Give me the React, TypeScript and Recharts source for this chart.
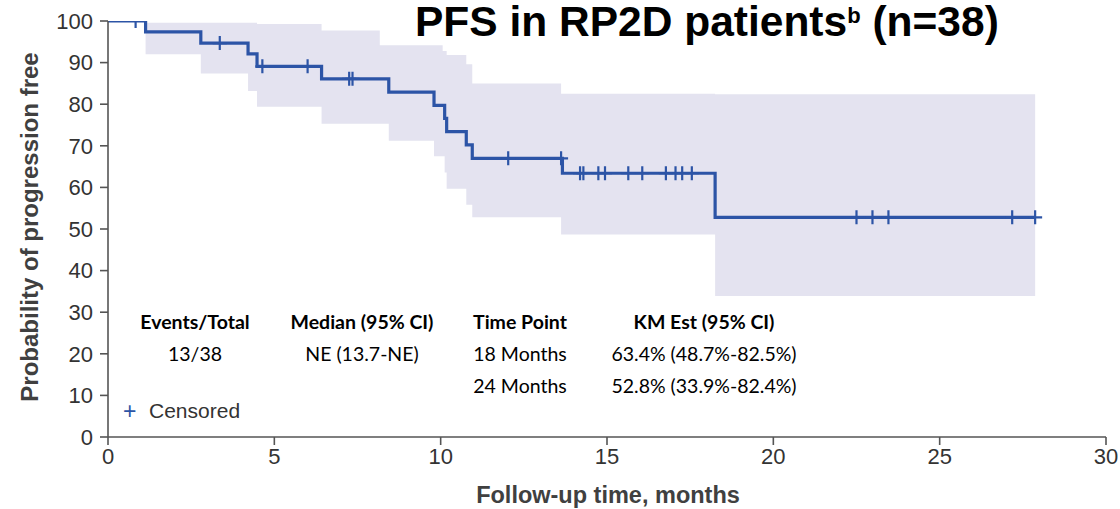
import React from 'react';
import { ComposedChart, Line, Area, Scatter, XAxis, YAxis } from 'recharts';

// Kaplan–Meier step estimate (percent progression free) at each event time
const kmTimes = [0, 1.13, 2.79, 4.21, 4.48, 6.42, 8.44, 9.8, 10.12, 10.18, 10.77, 10.95, 13.66, 18.25, 27.87];
const kmSurvival = [100, 97.4, 94.7, 92.1, 89.1, 86.1, 82.9, 79.7, 76.6, 73.4, 70.2, 67.0, 63.4, 52.8, 52.8];

// 95% confidence band, stepwise
const ciTimes = [1.13, 2.79, 4.21, 4.48, 6.42, 8.17, 8.44, 9.8, 10.06, 10.12, 10.18, 10.77, 10.95, 13.62, 18.25, 27.87];
const ciLower = [92.0, 87.4, 83.2, 79.4, 75.3, 75.3, 71.2, 67.5, 67.5, 63.6, 59.7, 55.8, 52.8, 48.7, 33.9, 33.9];
const ciUpper = [99.6, 99.6, 99.6, 99.3, 97.7, 94.2, 94.2, 94.2, 92.8, 92.8, 91.8, 89.6, 85.0, 82.5, 82.4, 82.4];

// Censoring times (months)
const censorTimes = [
  0.83, 3.36, 4.64, 6.0, 7.25, 7.35, 12.03, 13.62, 14.19, 14.29, 14.74, 14.94, 15.64,
  16.06, 16.77, 17.06, 17.26, 17.55, 22.5, 22.98, 23.46, 27.18, 27.87,
];

const xTicks = [0, 5, 10, 15, 20, 25, 30];
const yTicks = [0, 10, 20, 30, 40, 50, 60, 70, 80, 90, 100];

const tableHeaders = ['Events/Total', 'Median (95% CI)', 'Time Point', 'KM Est (95% CI)'];
const tableRow1 = ['13/38', 'NE (13.7-NE)', '18 Months', '63.4% (48.7%-82.5%)'];
const tableRow2 = ['', '', '24 Months', '52.8% (33.9%-82.4%)'];

const LINE_COLOR = '#2c54a6';
const BAND_COLOR = '#e4e3f0';
const AXIS_COLOR = '#555555';
const SANS = '"Liberation Sans", Arial, Helvetica, sans-serif';
const TABLE_FONT = 'Lato, sans-serif';

const kmData = kmTimes.map((t, i) => ({ t, v: kmSurvival[i] }));
const ciData = ciTimes.map((t, i) => ({ t, lo: ciLower[i], hi: ciUpper[i] }));

// survival level in effect at time t (step function lookup)
const levelAt = (t: number) => {
  let v = kmSurvival[0];
  for (let i = 0; i < kmTimes.length; i++) {
    if (kmTimes[i] <= t) v = kmSurvival[i];
  }
  return v;
};
const censorData = censorTimes.map((t) => ({ t, v: levelAt(t) }));

const CensorMark = (props: any) => {
  const { cx, cy } = props;
  if (cx == null || cy == null) return null;
  return (
    <path
      d={`M${cx - 7},${cy}H${cx + 7}M${cx},${cy - 7}V${cy + 7}`}
      stroke={LINE_COLOR}
      strokeWidth={2.2}
      fill="none"
    />
  );
};

const colX = [195, 362, 520, 704];

export default function App() {
  return (
    <div style={{ position: 'absolute', left: 0, top: 0, width: 1120, height: 509, background: '#fff' }}>
      <ComposedChart
        width={1120}
        height={509}
        margin={{ top: 21, right: 14, bottom: 42, left: 48 }}
      >
        <XAxis
          dataKey="t"
          type="number"
          domain={[0, 30]}
          ticks={xTicks}
          allowDataOverflow
          height={30}
          tickSize={8}
          tickMargin={3}
          axisLine={{ stroke: AXIS_COLOR, strokeWidth: 1.6 }}
          tickLine={{ stroke: AXIS_COLOR, strokeWidth: 1.6 }}
          tick={{ fill: '#333', fontSize: 22, fontFamily: SANS }}
        />
        <YAxis
          type="number"
          domain={[0, 100]}
          ticks={yTicks}
          allowDataOverflow
          width={60}
          tickSize={8}
          tickMargin={7}
          axisLine={{ stroke: AXIS_COLOR, strokeWidth: 1.6 }}
          tickLine={{ stroke: AXIS_COLOR, strokeWidth: 1.6 }}
          tick={{ fill: '#333', fontSize: 22, fontFamily: SANS }}
        />
        <Area
          data={ciData}
          dataKey={(d: any) => [d.lo, d.hi]}
          type="stepAfter"
          stroke="none"
          fill={BAND_COLOR}
          fillOpacity={1}
          isAnimationActive={false}
          activeDot={false}
        />
        <Line
          data={kmData}
          dataKey="v"
          type="stepAfter"
          stroke={LINE_COLOR}
          strokeWidth={3.2}
          dot={false}
          activeDot={false}
          isAnimationActive={false}
        />
        <Scatter
          data={censorData}
          dataKey="v"
          shape={CensorMark}
          isAnimationActive={false}
        />
      </ComposedChart>

      <svg
        width={1120}
        height={509}
        style={{ position: 'absolute', left: 0, top: 0, pointerEvents: 'none' }}
      >
        <text x={415} y={36} fontFamily={SANS} fontWeight="bold" fontSize={42.5} fill="#000">
          PFS in RP2D patients
          <tspan fontSize={22} dy={-13}>b</tspan>
          <tspan dy={13}> (n=38)</tspan>
        </text>

        <text
          transform="translate(38,227) rotate(-90)"
          textAnchor="middle"
          fontFamily={SANS}
          fontWeight="bold"
          fontSize={24}
          fill="#404040"
        >
          Probability of progression free
        </text>
        <text x={608} y={503} textAnchor="middle" fontFamily={SANS} fontWeight="bold" fontSize={23.5} fill="#404040">
          Follow-up time, months
        </text>

        {tableHeaders.map((h, i) => (
          <text key={'h' + i} x={colX[i]} y={329} textAnchor="middle" fontFamily={TABLE_FONT} fontWeight="bold" fontSize={19.5} fill="#000">
            {h}
          </text>
        ))}
        {tableRow1.map((h, i) => (
          <text key={'r1' + i} x={colX[i]} y={361} textAnchor="middle" fontFamily={TABLE_FONT} fontSize={19.5} fill="#000">
            {h}
          </text>
        ))}
        {tableRow2.map((h, i) => (
          <text key={'r2' + i} x={colX[i]} y={393} textAnchor="middle" fontFamily={TABLE_FONT} fontSize={19.5} fill="#000">
            {h}
          </text>
        ))}

        <text x={123} y={419} fontFamily={SANS} fontSize={23} fill={LINE_COLOR}>+</text>
        <text x={149} y={418} fontFamily={SANS} fontSize={21} fill="#333">Censored</text>
      </svg>
    </div>
  );
}
